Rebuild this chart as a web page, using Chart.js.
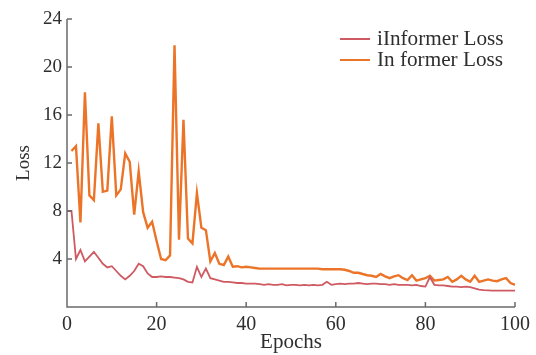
<!DOCTYPE html>
<html><head><meta charset="utf-8">
<script src="https://cdn.jsdelivr.net/npm/chart.js@4/dist/chart.umd.min.js"></script>
<style>html,body{margin:0;padding:0;background:#fff}#wrap{width:536px;height:355px;position:relative}</style>
</head><body><div id="wrap"><canvas id="c"></canvas></div>
<script>
// ---- data ----
const epochsI = [0,1,2,3,4,5,6,7,8,9,10,11,12,13,14,15,16,17,18,19,20,21,22,23,24,25,26,27,28,29,30,31,32,33,34,35,36,37,38,39,40,41,42,43,44,45,46,47,48,49,50,51,52,53,54,55,56,57,58,59,60,61,62,63,64,65,66,67,68,69,70,71,72,73,74,75,76,77,78,79,80,81,82,83,84,85,86,87,88,89,90,91,92,93,94,95,96,97,98,99,100];
const iInformerLoss = [8.0,8.0,4.0,4.75,3.8,4.2,4.6,4.1,3.6,3.3,3.4,3.0,2.6,2.3,2.6,3.0,3.6,3.4,2.8,2.5,2.5,2.55,2.5,2.5,2.45,2.4,2.3,2.1,2.05,3.35,2.5,3.2,2.4,2.3,2.2,2.1,2.1,2.05,2.0,2.0,1.95,1.95,1.95,1.9,1.85,1.9,1.85,1.85,1.9,1.8,1.85,1.85,1.8,1.85,1.8,1.85,1.8,1.85,2.1,1.85,1.9,1.95,1.9,1.95,1.95,2.0,1.95,1.9,1.95,1.95,1.9,1.9,1.85,1.9,1.85,1.85,1.85,1.8,1.85,1.75,1.7,2.5,1.85,1.8,1.8,1.75,1.7,1.7,1.65,1.7,1.65,1.55,1.45,1.4,1.38,1.36,1.36,1.36,1.36,1.36,1.36];
const epochsF = [1,2,3,4,5,6,7,8,9,10,11,12,13,14,15,16,17,18,19,20,21,22,23,24,25,26,27,28,29,30,31,32,33,34,35,36,37,38,39,40,41,42,43,44,45,46,47,48,49,50,51,52,53,54,55,56,57,58,59,60,61,62,63,64,65,66,67,68,69,70,71,72,73,74,75,76,77,78,79,80,81,82,83,84,85,86,87,88,89,90,91,92,93,94,95,96,97,98,99,100];
const informerLoss = [13.0,13.4,7.05,17.9,9.3,8.9,15.3,9.6,9.7,15.9,9.3,9.8,12.8,12.1,7.7,11.3,7.9,6.6,7.1,5.5,4.0,3.9,4.3,21.8,5.6,15.6,5.7,5.3,9.5,6.6,6.4,3.8,4.5,3.6,3.5,4.2,3.35,3.4,3.3,3.35,3.3,3.25,3.2,3.2,3.2,3.2,3.2,3.2,3.2,3.2,3.2,3.2,3.2,3.2,3.2,3.2,3.15,3.15,3.15,3.15,3.15,3.1,3.0,2.85,2.85,2.75,2.65,2.6,2.5,2.75,2.55,2.4,2.55,2.65,2.4,2.25,2.65,2.2,2.3,2.4,2.6,2.2,2.25,2.3,2.5,2.1,2.3,2.6,2.3,2.1,2.6,2.1,2.2,2.3,2.2,2.15,2.3,2.4,2.0,1.85];
const seriesNames = ['iInformer Loss', 'In former Loss'];
const xTicks = [0,20,40,60,80,100];
const yTicks = [4,8,12,16,20,24];
const xTitle = 'Epochs';
const yTitle = 'Loss';

const COLORS = ['#cf5a62', '#ec7428'];
const AXIS = '#6a6a6a';
const TEXT = '#2e2e2e';
const FONT = '"Liberation Serif", "DejaVu Serif", serif';

const pts = (xs, ys) => xs.map((x, i) => ({x: x, y: ys[i]}));

const axesPlugin = {
  id: 'axesTicks',
  afterDraw(chart) {
    const {ctx, scales: {x, y}} = chart;
    ctx.save();
    ctx.strokeStyle = AXIS;
    ctx.lineWidth = 1.5;
    const x0 = x.getPixelForValue(0), y0 = y.getPixelForValue(0);
    ctx.beginPath();
    ctx.moveTo(x0, y.getPixelForValue(24)); ctx.lineTo(x0, y0);
    ctx.lineTo(x.getPixelForValue(100), y0);
    yTicks.forEach(v => { const p = y.getPixelForValue(v); ctx.moveTo(x0, p); ctx.lineTo(x0 + 5, p); });
    xTicks.forEach(v => { if (v === 0) return; const p = x.getPixelForValue(v); ctx.moveTo(p, y0); ctx.lineTo(p, y0 - 5); });
    ctx.stroke();
    ctx.restore();
  }
};

const legendPlugin = {
  id: 'innerLegend',
  afterDraw(chart) {
    const {ctx} = chart;
    ctx.save();
    ctx.font = '20px ' + FONT;
    ctx.textBaseline = 'middle';
    chart.data.datasets.forEach((ds, i) => {
      const yy = 39 + i * 21;
      ctx.strokeStyle = ds.borderColor;
      ctx.lineWidth = 2;
      ctx.beginPath(); ctx.moveTo(340, yy); ctx.lineTo(370, yy); ctx.stroke();
      ctx.fillStyle = TEXT;
      ctx.save();
      ctx.translate(377, yy + 1);
      ctx.scale(1.06, 1);
      ctx.fillText(ds.label, 0, 0);
      ctx.restore();
    });
    ctx.restore();
  }
};

new Chart(document.getElementById('c'), {
  type: 'line',
  data: {
    datasets: [
      {label: seriesNames[0], data: pts(epochsI, iInformerLoss), borderColor: COLORS[0], borderWidth: 1.8, pointRadius: 0, tension: 0},
      {label: seriesNames[1], data: pts(epochsF, informerLoss), borderColor: COLORS[1], borderWidth: 2.4, pointRadius: 0, tension: 0}
    ]
  },
  options: {
    responsive: true, maintainAspectRatio: false, animation: false,
    layout: {padding: {top: 19, right: 18, left: 0, bottom: 0}},
    plugins: {legend: {display: false}, tooltip: {enabled: false}},
    scales: {
      x: {
        type: 'linear', min: 0, max: 100,
        afterFit: s => { s.height = 48; },
        afterBuildTicks: s => { s.ticks = xTicks.map(v => ({value: v})); },
        grid: {display: false, drawTicks: false},
        border: {display: false},
        ticks: {color: TEXT, padding: 6, font: {family: FONT, size: 20}, maxRotation: 0},
        title: {display: true, text: xTitle, color: TEXT, font: {family: FONT, size: 21}, padding: {top: 0, bottom: 0}}
      },
      y: {
        min: 0, max: 24,
        afterFit: s => { s.width = 67; },
        afterBuildTicks: s => { s.ticks = yTicks.map(v => ({value: v})); },
        grid: {display: false, drawTicks: false},
        border: {display: false},
        ticks: {color: TEXT, padding: 5, font: {family: FONT, size: 19}},
        title: {display: true, text: yTitle, color: TEXT, font: {family: FONT, size: 19}, padding: {top: 13, bottom: 0}}
      }
    }
  },
  plugins: [axesPlugin, legendPlugin]
});
</script>
</body></html>
